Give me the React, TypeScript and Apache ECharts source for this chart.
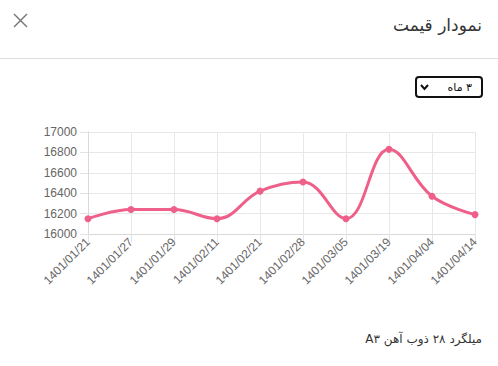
import React, { useEffect, useRef } from "react";
import * as echarts from "echarts";

const categories = [
  "1401/01/21", "1401/01/27", "1401/01/29", "1401/02/11", "1401/02/21",
  "1401/02/28", "1401/03/05", "1401/03/19", "1401/04/04", "1401/04/14",
];
const prices = [16150, 16240, 16240, 16150, 16420, 16510, 16150, 16830, 16370, 16190];
const titleText = "نمودار قیمت";
const selectText = "۳ ماه";
const productText = "میلگرد ۲۸ ذوب آهن A۳";

const persianFont = "'DejaVu Sans', 'Noto Sans', sans-serif";
const latinFont = "'Liberation Sans', Arial, sans-serif";
const rtl = (s: string) => "\u202B" + s + "\u202C";

export default function App() {
  const ref = useRef<HTMLDivElement>(null);
  useEffect(() => {
    document.body.style.margin = "0";
    const chart = echarts.init(ref.current!, null, { renderer: "svg" });
    chart.setOption({
      animation: false,
      backgroundColor: "#ffffff",
      grid: { left: 88, right: 23, top: 132, bottom: 132, containLabel: false },
      xAxis: {
        type: "category",
        data: categories,
        boundaryGap: false,
        axisLine: { show: true, lineStyle: { color: "#d9d9d9", width: 1 } },
        axisTick: { show: true, length: 8, alignWithLabel: true, lineStyle: { color: "#e3e3e3" } },
        splitLine: { show: true, lineStyle: { color: "#e8e8e8" } },
        axisLabel: {
          rotate: 45,
          color: "#666",
          fontSize: 12,
          fontFamily: latinFont,
          margin: 6,
          interval: 0,
        },
      },
      yAxis: {
        type: "value",
        min: 16000,
        max: 17000,
        interval: 200,
        axisLine: { show: true, lineStyle: { color: "#d9d9d9" } },
        axisTick: { show: true, length: 8, lineStyle: { color: "#e3e3e3" } },
        splitLine: { show: true, lineStyle: { color: "#e8e8e8" } },
        axisLabel: {
          color: "#666",
          fontSize: 12,
          fontFamily: latinFont,
          margin: 11,
          formatter: (v: number) => String(v),
        },
      },
      series: [
        {
          type: "line",
          data: prices,
          smooth: 0.4,
          symbol: "circle",
          symbolSize: 7,
          lineStyle: { color: "#ee6089", width: 3 },
          itemStyle: { color: "#ee6089" },
        },
      ],
      graphic: [
        {
          type: "line",
          shape: { x1: 14, y1: 14, x2: 27, y2: 27 },
          style: { stroke: "#777", lineWidth: 1.4 },
        },
        {
          type: "line",
          shape: { x1: 27, y1: 14, x2: 14, y2: 27 },
          style: { stroke: "#777", lineWidth: 1.4 },
        },
        {
          type: "text",
          x: 482,
          y: 25,
          style: {
            text: rtl(titleText),
            align: "right",
            verticalAlign: "middle",
            fontSize: 17,
            fontFamily: persianFont,
            fill: "#333",
          },
        },
        {
          type: "line",
          shape: { x1: 0, y1: 58.5, x2: 498, y2: 58.5 },
          style: { stroke: "#dedede", lineWidth: 1 },
        },
        {
          type: "rect",
          shape: { x: 416, y: 77, width: 66, height: 20, r: 3 },
          style: { fill: "#fff", stroke: "#111", lineWidth: 2 },
        },
        {
          type: "text",
          x: 472,
          y: 87.5,
          style: {
            text: rtl(selectText),
            align: "right",
            verticalAlign: "middle",
            fontSize: 11,
            fontFamily: persianFont,
            fill: "#111",
          },
        },
        {
          type: "polyline",
          shape: { points: [[421, 85], [424.5, 89], [428, 85]] },
          style: { stroke: "#111", lineWidth: 2, fill: "none" },
        },
        {
          type: "text",
          x: 482,
          y: 339,
          style: {
            text: rtl(productText),
            align: "right",
            verticalAlign: "middle",
            fontSize: 12,
            fontFamily: persianFont,
            fill: "#333",
          },
        },
      ],
    });
    return () => chart.dispose();
  }, []);
  return (
    <div
      ref={ref}
      style={{ position: "absolute", left: 0, top: 0, width: 498, height: 366 }}
    />
  );
}
